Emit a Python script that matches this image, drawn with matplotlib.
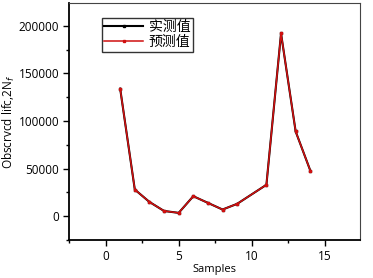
import matplotlib
matplotlib.use('Agg')
import matplotlib.pyplot as plt
from matplotlib.ticker import MultipleLocator

samples = [1, 2, 3, 4, 5, 6, 7, 8, 9, 11, 12, 13, 14]
measured = [134000, 28000, 15000, 5500, 3500, 21000, 14000, 7000, 13000, 33000, 192000, 89000, 48000]
predicted = [134000, 28000, 15000, 5500, 3500, 21000, 14000, 7000, 13000, 33000, 192000, 89000, 48000]


def main():
    plt.rcParams['font.family'] = ['Open Sans', 'Noto Sans CJK SC', 'DejaVu Sans']

    fig = plt.figure(figsize=(3.73, 2.78), dpi=100)
    ax = fig.add_axes([69 / 373, 38 / 278, 291 / 373, 237 / 278])

    ax.plot(samples, measured, color='black', marker='s', markersize=1.6, linewidth=1.5, label='实测值')
    ax.plot(samples, predicted, color='#d01010', marker='s', markersize=1.8, linewidth=1.1, label='预测值')

    ax.set_xlim(-2.5, 17.4)
    ax.set_ylim(-25000, 224000)
    ax.xaxis.set_major_locator(MultipleLocator(5))
    ax.xaxis.set_minor_locator(MultipleLocator(2.5))
    ax.yaxis.set_major_locator(MultipleLocator(50000))
    ax.yaxis.set_minor_locator(MultipleLocator(25000))
    ax.tick_params(which='major', direction='out', length=4, width=1, labelsize=8.5, pad=3)
    ax.tick_params(which='minor', direction='out', length=2, width=1)

    for side in ['left', 'bottom']:
        ax.spines[side].set_linewidth(1.3)
    for side in ['top', 'right']:
        ax.spines[side].set_linewidth(0.8)
        ax.spines[side].set_color('#444444')

    ax.set_xlabel('Samples', fontsize=8, labelpad=1)
    ax.set_ylabel('Obscrvcd lifc,2N$_f$', fontsize=8.5, labelpad=1)

    leg = ax.legend(loc='upper left', bbox_to_anchor=(0.105, 0.95), fontsize=10,
                    frameon=True, fancybox=False, edgecolor='black',
                    handlelength=2.8, borderpad=0.15, labelspacing=0.0, handletextpad=0.4,
                    borderaxespad=0.2)
    leg.get_frame().set_linewidth(1.0)

    fig.savefig('out.png', dpi=100)


if __name__ == '__main__':
    main()
